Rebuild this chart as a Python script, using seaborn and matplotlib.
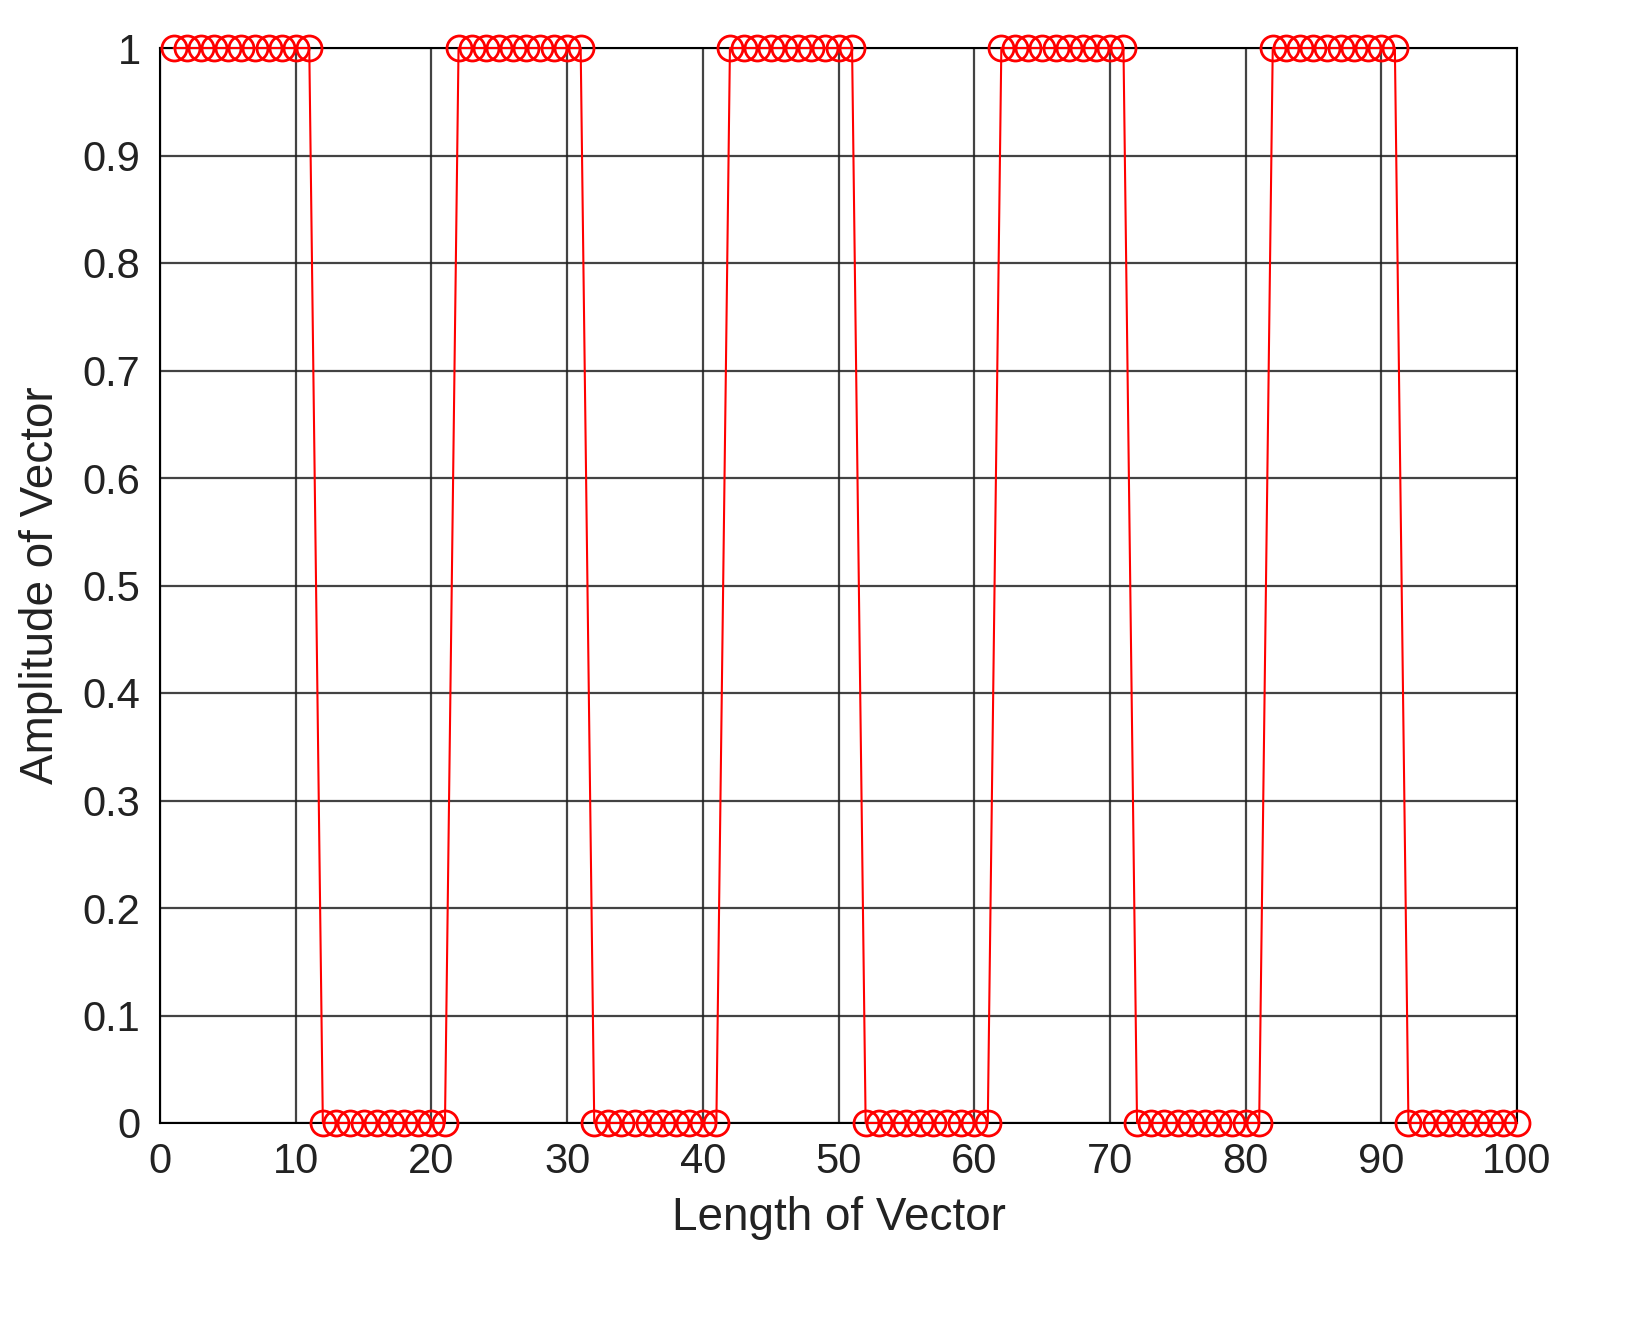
import matplotlib
matplotlib.use("Agg")
import matplotlib.pyplot as plt
import seaborn as sns
import pandas as pd

sns.set_style("white")
plt.rcParams['font.family'] = ['Liberation Sans', 'DejaVu Sans']

x_vals = list(range(1, 101))
amplitude = ([1]*11 + [0]*10 + [1]*10 + [0]*10 + [1]*10 + [0]*10 +
             [1]*10 + [0]*10 + [1]*10 + [0]*9)
x_ticks = [0, 10, 20, 30, 40, 50, 60, 70, 80, 90, 100]
y_ticks = [0, 0.1, 0.2, 0.3, 0.4, 0.5, 0.6, 0.7, 0.8, 0.9, 1]
y_labels = ["0", "0.1", "0.2", "0.3", "0.4", "0.5", "0.6", "0.7", "0.8", "0.9", "1"]

df = pd.DataFrame({"x": x_vals, "y": amplitude})

fig = plt.figure(figsize=(16.45, 13.36), dpi=100)
ax = fig.add_axes([160/1645, 1-1123/1336, (1517-160)/1645, (1123-48)/1336])
sns.lineplot(data=df, x="x", y="y", ax=ax, color="red", linewidth=1.5,
             marker="o", markersize=18, markerfacecolor="none",
             markeredgecolor="red", markeredgewidth=2, clip_on=False, zorder=3)
ax.set_xlim(0, 100)
ax.set_ylim(0, 1)
ax.set_xticks(x_ticks)
ax.set_yticks(y_ticks)
ax.set_yticklabels(y_labels)
ax.grid(True, color="#222222", linewidth=1.6, linestyle="-", alpha=0.85)
for s in ax.spines.values():
    s.set_color("black"); s.set_linewidth(1.5)
ax.tick_params(labelsize=30, colors="#222222", length=0, pad=14)
ax.set_xlabel("Length of Vector", fontsize=33, color="#222222", labelpad=10)
ax.set_ylabel("Amplitude of Vector", fontsize=33, color="#222222", labelpad=14)
fig.savefig("out.png", dpi=100)
